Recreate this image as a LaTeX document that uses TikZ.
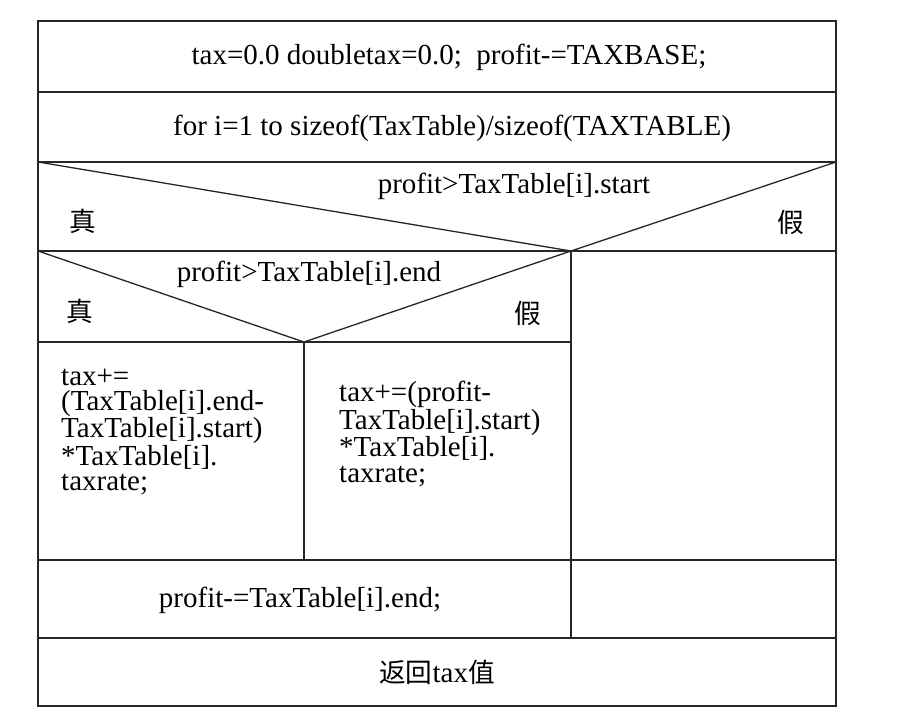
\documentclass[tikz,border=0pt]{standalone}
\usepackage{fontspec}
\setmainfont{Liberation Serif}
\newfontfamily\cjk{Noto Sans CJK SC}[Scale=0.92]
\begin{document}
\begin{tikzpicture}[x=1pt,y=-1pt,
  frame/.style={line width=1.3pt,black!85},
  txt/.style={inner sep=0pt,font=\fontsize{29}{25.5}\selectfont},
  body/.style={txt,align=left,anchor=west}]
\useasboundingbox (0,0) rectangle (916,719);
% corner coordinates
\coordinate (TL) at (38,21);
\coordinate (BR) at (836,706);
\coordinate (L1) at (38,92);   \coordinate (R1) at (836,92);
\coordinate (L2) at (38,162);  \coordinate (R2) at (836,162);
\coordinate (L3) at (38,251);  \coordinate (R3) at (836,251);
\coordinate (J1) at (571,251);
\coordinate (J2) at (304,342);
\coordinate (L4) at (38,342);
\coordinate (L5) at (38,560);  \coordinate (R5) at (836,560);
\coordinate (L6) at (38,638);  \coordinate (R6) at (836,638);
\coordinate (M5) at (304,560);
\coordinate (M6) at (571,638);
% frame
\draw[frame] (TL) rectangle (BR);
\draw[frame] (L1) -- (R1);
\draw[frame] (L2) -- (R2);
\draw[frame] (L3) -- (R3);
\draw[frame] (L2) -- (J1) -- (R2);
\draw[frame] (L3) -- (J2) -- (J1);
\draw[frame] (L4) -- (J1 |- L4);
\draw[frame] (J1) -- (M6);
\draw[frame] (J2) -- (M5);
\draw[frame] (L5) -- (R5);
\draw[frame] (L6) -- (R6);
% texts
\node[txt] (init) at (449,57) {tax=0.0 doubletax=0.0;\ \ profit-=TAXBASE;};
\node[txt] (loop) at (452,128) {for i=1 to sizeof(TaxTable)/sizeof(TAXTABLE)};
\node[txt] (c1) at (514,186) {profit>TaxTable[i].start};
\node[txt] (t1) at (83,221) {\cjk 真};
\node[txt] (f1) at (791,222) {\cjk 假};
\node[txt] (c2) at (309,274) {profit>TaxTable[i].end};
\node[txt] (t2) at (80,311) {\cjk 真};
\node[txt] (f2) at (528,313) {\cjk 假};
\node[body] (b1) at (61,432) {tax+=\\(TaxTable[i].end-\\TaxTable[i].start)\\*TaxTable[i].\\taxrate;};
\node[body] (b2) at (339,434) {tax+=(profit-\\TaxTable[i].start)\\*TaxTable[i].\\taxrate;};
\node[txt] (upd) at (300,600) {profit-=TaxTable[i].end;};
\node[txt] (ret) at (437,672) {{\cjk 返回}tax{\cjk 值}};
\end{tikzpicture}
\end{document}
